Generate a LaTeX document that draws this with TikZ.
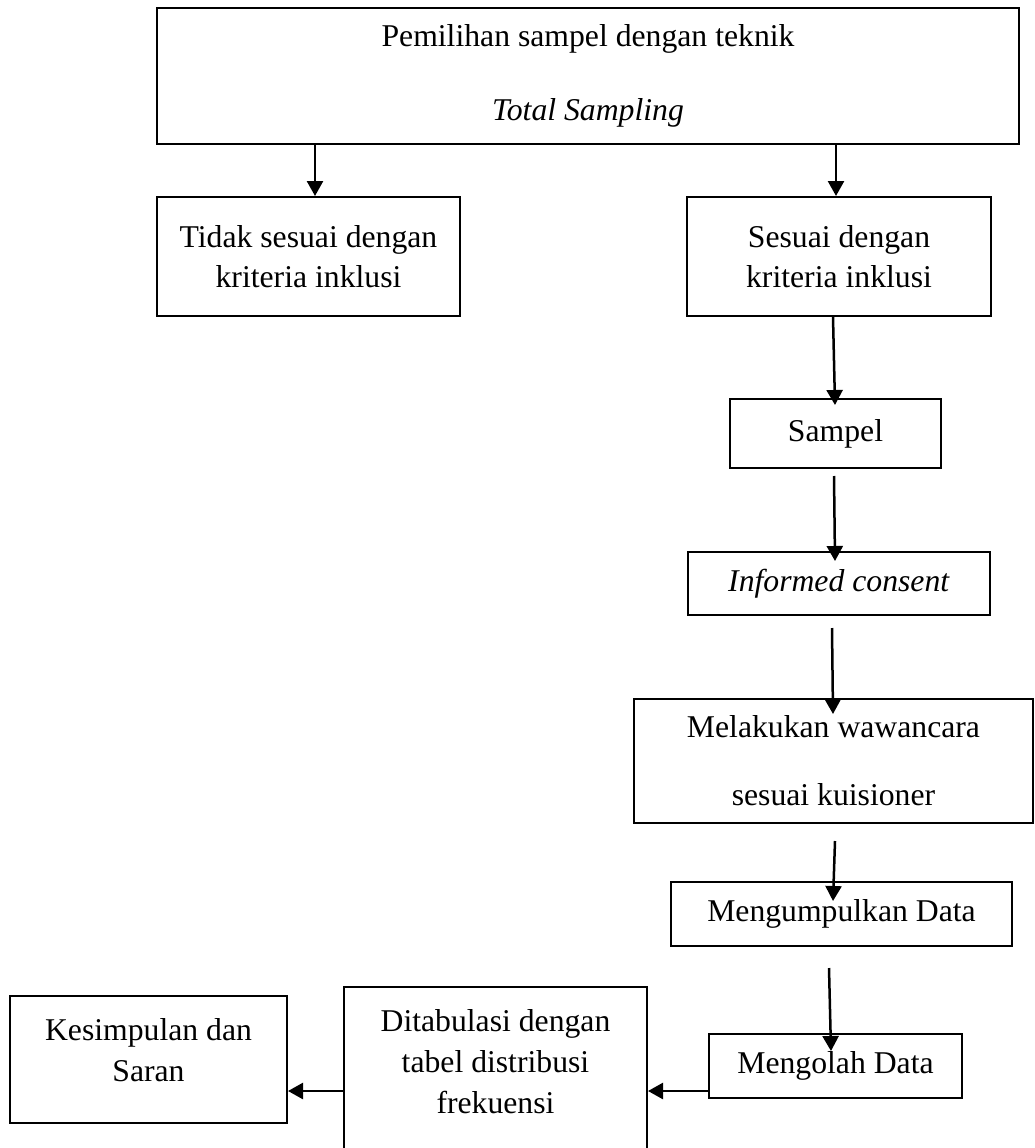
\documentclass[tikz,border=0pt]{standalone}
\usepackage{fontspec}
\setmainfont{Liberation Serif}
\usetikzlibrary{arrows.meta}
\begin{document}
\begin{tikzpicture}[x=1pt,y=-1pt,
  box/.style={draw, line width=2pt, rectangle, inner sep=0pt,
    font=\fontsize{31.7}{38}\selectfont, align=center},
  txt/.style={inner sep=0pt, font=\fontsize{31.7}{38}\selectfont, align=center},
  arr/.style={-{Triangle[length=15pt,width=16pt]}, line width=2.5pt}]
\useasboundingbox (0,0) rectangle (1034,1148);

\node[box, minimum width=862pt, minimum height=136pt] (top) at (588,76)
  {Pemilihan sampel dengan teknik\\[36pt]\textit{Total Sampling}};
\node[box, minimum width=303pt, minimum height=119pt] (tidak) at (308.5,256.5)
  {Tidak sesuai dengan\\[2pt]kriteria inklusi};
\node[box, minimum width=304pt, minimum height=119pt] (sesuai) at (839,256.5)
  {Sesuai dengan\\[2pt]kriteria inklusi};
\node[box, minimum width=211pt, minimum height=69pt] (sampel) at (835.5,433.5)
  {Sampel};
\node[box, minimum width=302pt, minimum height=63pt] (ic) at (839,583.5)
  {\textit{Informed consent}};
\node[box, minimum width=399pt, minimum height=124pt] (wawan) at (833.5,761)
  {Melakukan wawancara\\[30pt]sesuai kuisioner};
\node[box, minimum width=341pt, minimum height=64pt] (kumpul) at (841.5,914)
  {Mengumpulkan Data};
\node[box, minimum width=253pt, minimum height=64pt] (olah) at (835.5,1066)
  {Mengolah Data};
\node[box, minimum width=303pt, minimum height=163pt,
  label={[txt, yshift=6.5pt]center:{Ditabulasi dengan\\[3pt]tabel distribusi\\[3pt]frekuensi}}]
  (tabel) at (495.5,1068.5) {};
\node[box, minimum width=277pt, minimum height=127pt,
  label={[txt, yshift=9.5pt]center:{Kesimpulan dan\\[3pt]Saran}}]
  (simpul) at (148.5,1059.5) {};

\coordinate (xl) at (315,0);
\coordinate (xr) at (836,0);
\coordinate (yh) at (0,1091);

\draw[arr] (top.south -| xl) -- (tidak.north -| xl);
\draw[arr] (top.south -| xr) -- (sesuai.north -| xr);
\draw[arr] ([xshift=-6pt]sesuai.south) -- ([yshift=-7pt,xshift=-0.5pt]sampel.north);
\draw[arr] ([yshift=-7pt,xshift=-1.5pt]sampel.south) -- ([yshift=-10pt,xshift=-4pt]ic.north);
\draw[arr] ([yshift=-12pt,xshift=-7pt]ic.south) -- ([yshift=-16pt,xshift=-0.5pt]wawan.north);
\draw[arr] ([yshift=-17pt,xshift=1.5pt]wawan.south) -- ([yshift=-20pt,xshift=-8.5pt]kumpul.north);
\draw[arr] ([yshift=-21pt,xshift=-12.5pt]kumpul.south) -- ([yshift=-18pt,xshift=-4.5pt]olah.north);
\draw[arr] (olah.west |- yh) -- (tabel.east |- yh);
\draw[arr] (tabel.west |- yh) -- (simpul.east |- yh);
\end{tikzpicture}
\end{document}
